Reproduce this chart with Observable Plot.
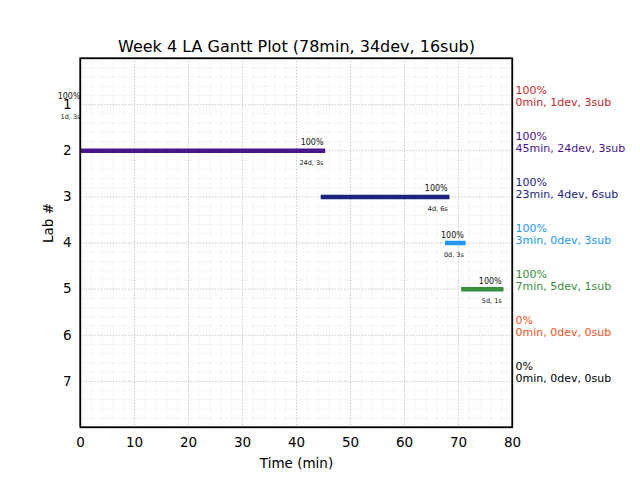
<!DOCTYPE html>
<html><head><meta charset="utf-8">
<script src="https://cdn.jsdelivr.net/npm/d3@7"></script>
<script src="https://cdn.jsdelivr.net/npm/@observablehq/plot@0.6"></script>
<style>body{margin:0;background:#fff}</style>
</head><body><div id="chart"></div>
<script>
const title = "Week 4 LA Gantt Plot (78min, 34dev, 16sub)";
const xLabel = "Time (min)";
const yLabel = "Lab #";
const labs = [1, 2, 3, 4, 5, 6, 7];
const starts = [0, 0, 45, 68, 71, 78, 78];
const minutes = [0, 45, 23, 3, 7, 0, 0];
const devs = [1, 24, 4, 0, 5, 0, 0];
const subs = [3, 3, 6, 3, 1, 0, 0];
const percents = [100, 100, 100, 100, 100, 0, 0];
const colors = ["#c62828", "#4a148c", "#1a237e", "#2196f3", "#388e3c", "#f4511e", "#000000"];
const xTicks = [0, 10, 20, 30, 40, 50, 60, 70, 80];
const yTicks = [1, 2, 3, 4, 5, 6, 7];
const xDomain = [0, 80];
const yDomain = [0, 8];
const xMinor = d3.range(0, 81, 2);
const yMinor = d3.range(0, 41).map(i => i / 5);

const rows = labs.map((lab, i) => ({
  lab, start: starts[i], end: starts[i] + minutes[i], min: minutes[i],
  dev: devs[i], sub: subs[i], pct: percents[i], color: colors[i]
}));
const bars = rows.filter(d => d.min > 0);
const notes = rows.filter(d => d.pct > 0);

const chart = Plot.plot({
  width: 640, height: 480,
  marginLeft: 80, marginRight: 128, marginTop: 58, marginBottom: 53,
  style: {fontFamily: "DejaVu Sans", fontSize: "13.5px", color: "#000", background: "#fff", overflow: "visible"},
  x: {domain: xDomain, label: null},
  y: {domain: yDomain, reverse: true, label: null},
  color: {type: "identity"},
  marks: [
    Plot.ruleX(xMinor, {stroke: "#f3f3f3", strokeWidth: 0.8}),
    Plot.ruleY(yMinor, {stroke: "#f3f3f3", strokeWidth: 0.8}),
    Plot.ruleX(xTicks, {stroke: "#b8b8b8", strokeWidth: 0.8, strokeDasharray: "1,2"}),
    Plot.ruleY(yTicks, {stroke: "#b8b8b8", strokeWidth: 0.8, strokeDasharray: "1,2"}),
    Plot.ruleY(bars, {y: "lab", x1: "start", x2: "end", stroke: "color", strokeWidth: 4.5, strokeLinecap: "square", clip: "frame"}),
    Plot.text(notes, {x: "end", y: "lab", text: d => d.pct + "%", textAnchor: "end", lineAnchor: "middle", dy: -8, fontSize: 8, fill: "#111"}),
    Plot.text(notes, {x: "end", y: "lab", text: d => d.dev + "d, " + d.sub + "s", textAnchor: "end", lineAnchor: "middle", dy: 12, fontSize: 6.5, fill: "#111"}),
    Plot.text(rows, {x: () => xDomain[1], y: "lab", dx: 3, dy: 1, text: d => `${d.pct}%\n${d.min}min, ${d.dev}dev, ${d.sub}sub`, textAnchor: "start", lineAnchor: "bottom", lineHeight: 1.09, fontSize: 11, fill: "color"}),
    Plot.axisX({ticks: xTicks, tickSize: 0, tickPadding: 10, label: null, fontSize: 13.5}),
    Plot.axisY({ticks: yTicks, tickSize: 0, tickPadding: 9, label: null, fontSize: 13.5}),
    Plot.frame({stroke: "#000", strokeWidth: 1.3}),
    Plot.rect([0], {x1: () => xDomain[0], x2: () => xDomain[1], y1: () => yDomain[0], y2: () => yDomain[1], fill: "none", stroke: "#000", strokeWidth: 1.2}),
    Plot.text([title], {frameAnchor: "top", lineAnchor: "middle", dy: -12, fontSize: 16}),
    Plot.text([xLabel], {frameAnchor: "bottom", lineAnchor: "middle", dy: 36, fontSize: 13.5}),
    Plot.text([yLabel], {frameAnchor: "left", dx: -32, rotate: -90, fontSize: 13.5})
  ]
});
document.getElementById("chart").append(chart);
</script>
</body></html>
